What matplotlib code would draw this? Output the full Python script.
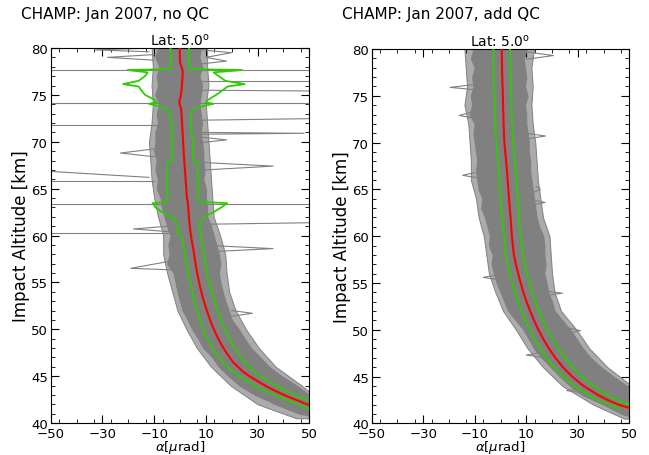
import matplotlib
matplotlib.use("Agg")
import matplotlib.pyplot as plt
from matplotlib.ticker import MultipleLocator, FixedLocator

# ---------------- data ----------------
xticks = [-50, -30, -10, 10, 30, 50]
yticks = [40, 45, 50, 55, 60, 65, 70, 75, 80]
titles = ["CHAMP: Jan 2007, no QC", "CHAMP: Jan 2007, add QC"]
subtitle = r"Lat: 5.0$^{\mathrm{o}}$"

# ---- left panel (no QC) ----
L_mean_alt = [80, 78.5, 77.6, 77.0, 76.3, 75.5, 74.8, 74.2, 73.5, 72.5, 71.5, 70, 68.5, 67, 65.5, 64,
              63.4, 62.5, 61.5, 60.5, 59.5, 58.5, 57.5, 56.5, 55.5, 54.5, 53.5, 52.5, 51.5, 50.5, 49.5,
              48.5, 47.5, 46.5, 45.5, 45, 44.5, 44, 43.5, 42.9, 42.4, 41.9]
L_mean = [-0.1, 0.0, 1.0, 1.0, 0.8, 0.6, 0.2, -0.3, 0.4, 0.7, 0.9, 1.2, 1.5, 1.9, 2.3, 2.7,
          3.1, 3.3, 3.6, 4.0, 4.5, 5.2, 5.7, 6.3, 7.0, 7.8, 8.7, 9.8, 11.0, 12.3, 13.9,
          15.7, 17.9, 20.5, 24.3, 26.8, 29.8, 32.8, 36.3, 41.0, 45.5, 50.0]

L_green_alt = [80, 78.0, 77.75, 77.65, 77.4, 77.0, 76.5, 76.15, 75.9, 75.5, 75.0, 74.5, 74.2, 74.05,
               73.7, 73.3, 72.0, 70.0, 68.0, 67.8, 64.0, 63.6, 63.45, 63.0, 62.5, 62.0, 61.5, 61.0,
               60.5, 60.3, 60.0, 59.5, 58.5, 57.5, 56.5, 55.5, 54.5, 53.5, 52.5, 51.5, 50.5, 49.5,
               48.5, 47.5, 46.5, 45.5, 45, 44.5, 44, 43.5, 42.9, 42.4, 41.9, 41.4]
L_green_lo = [-3.6, -3.6, -3.6, -20.3, -12.5, -13.5, -16.0, -22.0, -16.0, -15.0, -13.5, -10.0, -9.0, -12.0,
              -6.8, -4.2, -3.3, -3.0, -3.0, -4.9, -4.9, -5.0, -10.6, -9.5, -7.0, -3.0, -1.5, -1.0,
              -0.5, -1.5, 0.4, 0.9, 1.6, 2.1, 2.8, 3.6, 4.3, 5.1, 6.1, 7.2, 8.3, 9.8,
              11.6, 13.7, 16.5, 20.2, 22.8, 25.8, 28.8, 32.3, 37.2, 41.8, 46.5, 50.5]
L_green_hi = [3.5, 3.5, 3.5, 24.0, 13.0, 15.0, 17.5, 25.0, 18.5, 16.5, 14.0, 11.0, 10.0, 13.0,
              7.3, 4.5, 4.0, 5.0, 5.1, 6.9, 7.0, 7.2, 18.2, 16.0, 13.0, 9.5, 8.0, 7.5,
              7.8, 8.5, 7.9, 8.3, 9.0, 9.6, 10.2, 10.8, 11.8, 12.8, 13.9, 15.2, 16.6, 18.3,
              20.1, 22.4, 24.9, 28.6, 31.0, 34.0, 37.0, 40.5, 45.0, 49.5, 53.5, 56.0]

L_core_alt = [80, 79, 78, 77, 76, 75, 74, 73, 72, 71, 70, 69, 68, 67, 66, 65, 64, 63, 62, 61, 60, 59, 58,
              57, 56, 55, 54, 53, 52, 51, 50, 49, 48, 47, 46, 45, 44, 43, 42, 41, 40.7]
L_core_lo = [-8.5, -9.5, -8.0, -9.0, -8.5, -9.5, -8.0, -9.0, -8.5, -9.5, -9.5, -10.0, -9.0, -9.5, -8.5,
             -9.0, -7.5, -7.0, -6.0, -5.0, -3.6, -4.5, -4.0, -4.9, -2.5, -1.7, -1.0, 0.0, 1.0, 3.0,
             4.7, 7.0, 9.0, 12.5, 15.0, 18.8, 23.0, 29.0, 37.0, 46.0, 52.0]
L_core_hi = [8.0, 7.5, 8.5, 7.5, 8.5, 8.0, 7.5, 8.0, 8.5, 8.0, 8.5, 9.0, 9.0, 9.5, 9.0, 10.0, 10.0,
             10.5, 10.5, 12.0, 13.0, 14.0, 15.0, 15.6, 15.0, 15.6, 16.5, 17.5, 18.8, 20.0,
             22.7, 25.0, 27.5, 31.0, 34.5, 39.3, 45.0, 50.0, 56.0, 56.0, 56.0]

L_outer_alt = [80, 78, 76, 74, 72, 70, 68, 66, 64, 62, 60, 58, 56, 54, 52, 50, 48, 46, 44, 42, 40.5]
L_outer_lo = [-11, -10.5, -11, -10.5, -11, -12, -11.5, -11, -10, -8.5, -6.5, -6.5, -5, -3, -1, 2.5,
              6.5, 12, 19.5, 30, 45]
L_outer_hi = [10.5, 10.5, 11, 10, 10.5, 11, 11.5, 12, 12.5, 13, 15.5, 17.5, 18, 19, 21.5, 25.5,
              30.5, 37, 47, 56, 56]

# outlier profile segments (alpha values, altitudes)
L_outliers = [
    ([-60, 60], [77.65, 77.65]),
    ([6, 60], [76.45, 76.45]),
    ([6, 60], [75.5, 75.4]),
    ([-60, 60], [74.1, 74.1]),
    ([8, 60], [72.3, 72.5]),
    ([-60, -5], [71.8, 71.8]),
    ([7, 48, 7], [71.0, 70.9, 70.8]),
    ([-60, -12], [67.0, 66.2]),
    ([-60, -10], [65.85, 65.85]),
    ([-60, 60], [63.4, 63.4]),
    ([10, 60], [61.2, 61.4]),
    ([-60, -4], [60.25, 60.25]),
    ([-10, -33, -12], [80.0, 79.8, 79.6]),
    ([-10, -28, -10], [79.3, 79.0, 78.7]),
    ([8, 20, 10, 18, 8], [79.8, 79.5, 79.0, 78.6, 78.3]),
    ([8, 18, 8], [70.5, 70.2, 69.9]),
    ([-8, -23, -10], [69.3, 68.8, 68.4]),
    ([8, 36, 10], [67.8, 67.4, 67.0]),
    ([-3, -19, 0], [57.3, 56.5, 56.3]),
    ([14, 36, 14], [58.9, 58.6, 58.3]),
    ([-4, -18, -4], [61.0, 60.7, 60.4]),
    ([20, 28, 20], [52.0, 51.7, 51.4]),
    ([34, 28, 34], [43.6, 43.3, 43.0]),
]

# ---- right panel (add QC) ----
R_alt = [80, 78, 76, 74, 72, 70, 68, 66, 64, 62, 60, 58, 57, 56, 55, 54, 53, 52, 51, 50, 49, 48, 47, 46,
         45, 44, 43, 42.5, 42, 41.6]
R_mean = [0.5, 0.6, 0.8, 1.0, 1.2, 1.5, 2.2, 2.8, 3.3, 3.9, 4.4, 5.2, 6.0, 6.9, 7.8, 8.9, 10.1, 11.5,
          13.0, 14.7, 16.6, 18.8, 21.3, 24.2, 27.8, 32.2, 38.0, 41.5, 45.8, 50.5]
R_green_lo = [-2.8, -2.7, -2.6, -2.2, -2.0, -1.6, -1.0, -0.4, 0.0, 0.6, 1.4, 2.0, 2.8, 3.7, 4.6, 5.6,
              6.8, 8.2, 9.7, 11.4, 13.2, 15.4, 17.9, 20.7, 24.3, 28.6, 34.3, 37.8, 42.0, 46.5]
R_green_hi = [3.7, 3.8, 4.1, 4.3, 4.5, 4.9, 5.6, 6.2, 6.8, 7.2, 7.8, 8.6, 9.4, 10.3, 11.3, 12.4,
              13.5, 15.0, 16.5, 18.3, 20.2, 22.5, 25.0, 28.0, 31.6, 36.0, 41.8, 45.5, 49.7, 54.5]

R_core_alt = [80, 79, 78, 77, 76, 75, 74, 73, 72, 71, 70, 69, 68, 67, 66, 65, 64, 63, 62, 61, 60, 59, 58,
              57, 56, 55, 54, 53, 52, 51, 50, 49, 48, 47, 46, 45, 44, 43, 42, 41, 40.6]
R_core_lo = [-10.5, -11.5, -10.0, -11.0, -10.5, -11.5, -11.0, -12.0, -10.0, -10.5, -10.0, -9.5, -9.0,
             -9.5, -9.0, -8.5, -7.0, -7.5, -6.0, -5.0, -4.1, -4.5, -3.0, -3.5, -2.5, -1.5, 0.0, 1.5,
             3.0, 6.0, 8.9, 11.0, 13.0, 16.0, 19.5, 23.1, 27.0, 32.0, 40.0, 47.0, 52.0]
R_core_hi = [10.2, 9.0, 9.5, 10.0, 9.5, 10.5, 9.5, 10.0, 10.0, 10.5, 11.0, 11.0, 11.5, 11.5, 12.0,
             12.5, 13.0, 13.5, 14.0, 15.0, 16.6, 17.0, 17.0, 17.5, 17.0, 17.9, 18.5, 20.0, 21.0,
             24.0, 27.0, 29.5, 32.0, 35.0, 39.0, 43.8, 49.0, 54.0, 56.0, 56.0, 56.0]

R_outer_alt = [80, 78, 76, 74, 72, 70, 68, 66, 64, 62, 60, 58, 56, 54, 52, 50, 48, 46, 44, 42, 40.5]
R_outer_lo = [-14, -13.5, -13, -14, -12.5, -12, -11.5, -11.5, -9.5, -8.5, -6.5, -5.5, -4.5, -2, 1, 6,
              10.5, 16.5, 24, 36, 48]
R_outer_hi = [13, 12, 12.5, 12, 12.5, 13.5, 14, 14.5, 15.5, 16.5, 19, 19.5, 20, 21, 23.5, 29.5,
              34.5, 41.5, 51, 56, 56]

R_outliers = [
    ([10, 20.5, 10], [79.7, 79.3, 78.9]),
    ([-10, -19.6, -8], [76.2, 75.9, 75.6]),
    ([-12, -16, -10], [73.2, 72.9, 72.6]),
    ([10, 17.5, 10], [71.0, 70.7, 70.4]),
    ([-10, -14.7, -8], [66.8, 66.5, 66.2]),
    ([12, 17.3, 12], [63.9, 63.6, 63.3]),
    ([14, 15.5, 13], [65.3, 65.0, 64.7]),
    ([0, -6.7, 0], [55.9, 55.6, 55.3]),
    ([16, 24, 16], [54.2, 53.9, 53.6]),
    ([26, 31, 26], [50.2, 49.9, 49.6]),
    ([17, 10, 17], [47.6, 47.3, 47.0]),
    ([33, 25.7, 33], [43.8, 43.5, 43.2]),
]

# ---------------- drawing ----------------
GRAY = "#808080"
GREEN = "#2ccc00"
RED = "#ff0000"

fig = plt.figure(figsize=(6.49, 4.56), dpi=100)
axL = fig.add_axes([50.7 / 649, (456 - 424) / 456, 258.6 / 649, 375 / 456])
axR = fig.add_axes([371.7 / 649, (456 - 424.3) / 456, 257.6 / 649, 374.3 / 456])

panels = [
    (axL, L_outer_alt, L_outer_lo, L_outer_hi, L_core_alt, L_core_lo, L_core_hi, L_outliers,
     L_mean_alt, L_mean, L_green_alt, L_green_lo, L_green_hi),
    (axR, R_outer_alt, R_outer_lo, R_outer_hi, R_core_alt, R_core_lo, R_core_hi, R_outliers,
     R_alt, R_mean, R_alt, R_green_lo, R_green_hi),
]

for i, (ax, oa, olo, ohi, ca, clo, chi, outl, ma, mv, ga, glo, ghi) in enumerate(panels):
    ax.fill_betweenx(oa, olo, ohi, facecolor="#ababab", edgecolor=GRAY, linewidth=0.7, zorder=1)
    ax.fill_betweenx(ca, clo, chi, facecolor=GRAY, edgecolor=GRAY, linewidth=0.8, zorder=2)
    for xs, ys in outl:
        ax.plot(xs, ys, color=GRAY, lw=0.8, zorder=2)
    ax.plot(glo, ga, color=GREEN, lw=1.3, zorder=3)
    ax.plot(ghi, ga, color=GREEN, lw=1.3, zorder=3)
    ax.plot(mv, ma, color=RED, lw=1.5, zorder=4)

    ax.set_xlim(-50, 50)
    ax.set_ylim(40, 80)
    ax.xaxis.set_major_locator(FixedLocator(xticks))
    ax.xaxis.set_minor_locator(MultipleLocator(20 / 3))
    ax.yaxis.set_major_locator(FixedLocator(yticks))
    ax.yaxis.set_minor_locator(MultipleLocator(1))
    ax.set_xticklabels(["\u2212" + str(-t) if t < 0 else str(t) for t in xticks])
    ax.tick_params(which="both", direction="in", top=True, right=True, labelsize=9.5)
    ax.tick_params(axis="x", pad=3)
    ax.tick_params(axis="y", pad=2)
    ax.tick_params(which="major", length=6, width=0.8)
    ax.tick_params(which="minor", length=3, width=0.6)
    ax.set_xlabel(r"$\alpha$[$\mu$rad]", fontsize=9.5, labelpad=-1.5)
    ax.set_ylabel("Impact Altitude [km]", fontsize=12, labelpad=1)
    ax.set_title(subtitle, fontsize=10, pad=2)
    fig.text(ax.get_position().x0 - 0.045, 0.969, titles[i], fontsize=11, ha="left", va="center")

fig.savefig("out.png", dpi=100)
